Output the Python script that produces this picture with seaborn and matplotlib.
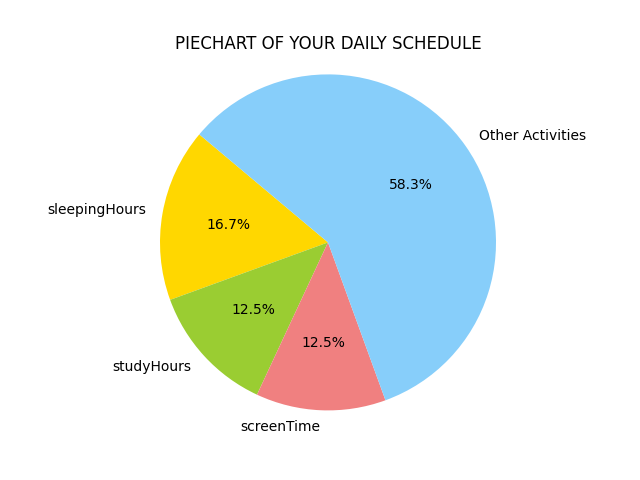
import matplotlib
matplotlib.use("Agg")
import matplotlib.pyplot as plt
import seaborn as sns

labels = ["sleepingHours", "studyHours", "screenTime", "Other Activities"]
hours = [4, 3, 3, 14]
colors = ["gold", "yellowgreen", "lightcoral", "lightskyblue"]

fig, ax = plt.subplots(figsize=(6.4, 4.8), dpi=100)
ax.pie(hours, labels=labels, colors=colors, autopct="%1.1f%%", startangle=140)
ax.axis("equal")
ax.set_title("PIECHART OF YOUR DAILY SCHEDULE")
fig.savefig("out.png")
